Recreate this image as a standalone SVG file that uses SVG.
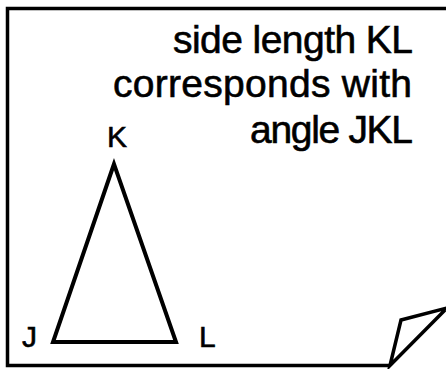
<svg xmlns="http://www.w3.org/2000/svg" width="446" height="369" viewBox="0 0 446 369">
<style>
.ln{fill:none;stroke:#000;stroke-width:3.5;stroke-linejoin:miter}
.tri{fill:none;stroke:#000;stroke-width:4;stroke-linejoin:miter}
.t{font-family:"Liberation Sans",Arial,sans-serif;fill:#000;stroke:#000;stroke-width:0.6}
</style>
<rect width="446" height="369" fill="#fff"/>
<g id="page">
<path class="ln" d="M447,8.5 H7.5 V365.5 H390"/>
<path class="ln" d="M390,365.5 L401,320 L447,308 Z"/>
</g>
<g id="caption" class="t" font-size="39" text-anchor="end">
<text x="413" y="53" textLength="240" lengthAdjust="spacing">side length KL</text>
<text x="412" y="97" textLength="299" lengthAdjust="spacing">corresponds with</text>
<text x="413" y="143" textLength="163" lengthAdjust="spacing">angle JKL</text>
</g>
<g id="triangle">
<path class="tri" d="M114,164 L53,342 L176,342 Z"/>
</g>
<g id="labels" class="t" font-size="30">
<text x="117" y="147" text-anchor="middle">K</text>
<text x="22" y="347">J</text>
<text x="199" y="347">L</text>
</g>
</svg>
